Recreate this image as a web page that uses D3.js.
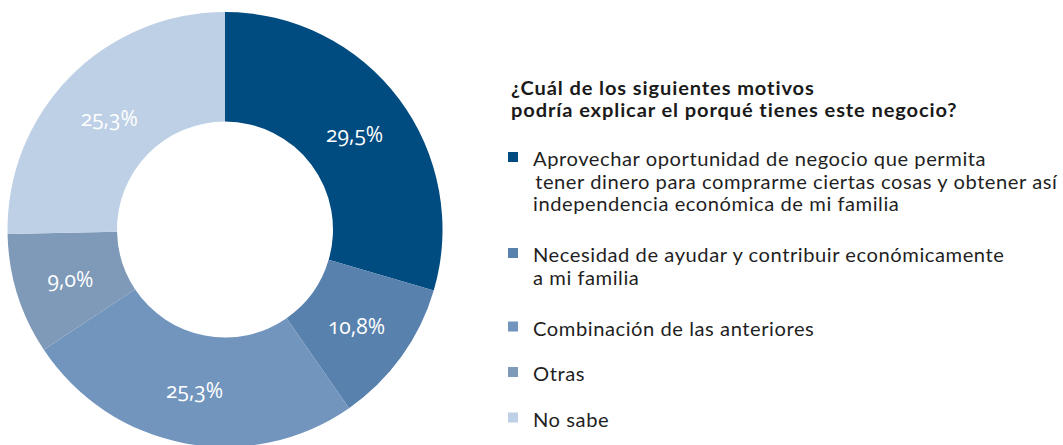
<!DOCTYPE html>
<html>
<head>
<meta charset="utf-8">
<script src="https://cdn.jsdelivr.net/npm/d3@7"></script>
<style>
  html, body { margin: 0; padding: 0; background: #fff; }
  svg { display: block; }
  text { font-family: Lato, "Open Sans", sans-serif; }
</style>
</head>
<body>
<svg id="chart" width="1063" height="445"></svg>
<script>
// ---- data ----
const categories = [
  ["Aprovechar oportunidad de negocio que permita", "tener dinero para comprarme ciertas cosas y obtener así", "independencia económica de mi familia"],
  ["Necesidad de ayudar y contribuir económicamente", "a mi familia"],
  ["Combinación de las anteriores"],
  ["Otras"],
  ["No sabe"]
];
const values = [29.5, 10.8, 25.3, 9.0, 25.3];
const valueLabels = ["29,5%", "10,8%", "25,3%", "9,0%", "25,3%"];
const colors = ["#004b7f", "#5881ad", "#7295be", "#7e9ab8", "#bed0e5"];
const titleLines = ["¿Cuál de los siguientes motivos", "podría explicar el porqué tienes este negocio?"];

// ---- layout ----
const svg = d3.select("#chart");
const cx = 225, cy = 229.5, outerR = 217.5, innerR = 108;

const pie = d3.pie().sort(null).value(d => d);
const arcs = pie(values);
const arc = d3.arc().innerRadius(innerR).outerRadius(outerR);
const labelArc = d3.arc().innerRadius(innerR + 54).outerRadius(innerR + 54);

const g = svg.append("g").attr("transform", `translate(${cx},${cy})`);
g.selectAll("path.slice")
  .data(arcs)
  .join("path")
  .attr("class", "slice")
  .attr("d", arc)
  .attr("fill", (d, i) => colors[i]);

g.selectAll("text.lbl")
  .data(arcs)
  .join("text")
  .attr("class", "lbl")
  .attr("transform", d => `translate(${labelArc.centroid(d)})`)
  .attr("text-anchor", "middle")
  .attr("dy", "0.45em")
  .attr("fill", "#ffffff")
  .style("font-family", "'Open Sans', sans-serif")
  .style("font-size", "21px")
  .style("font-variant-numeric", "oldstyle-nums")
  .style("font-feature-settings", "'onum' 1")
  .text((d, i) => valueLabels[i]);

// ---- title ----
const titleX = 511, titleSx = 1.115;
svg.append("g")
  .attr("transform", `translate(${titleX},0) scale(${titleSx},1)`)
  .selectAll("text.title")
  .data(titleLines)
  .join("text")
  .attr("class", "title")
  .attr("x", 0)
  .attr("y", (d, i) => 95 + i * 21.8)
  .attr("fill", "#1a1a1a")
  .style("font-size", "18px")
  .style("font-weight", "bold")
  .style("letter-spacing", "0.8px")
  .text(d => d);

// ---- legend ----
const lineH = 22.5;
const textX = 533, textSx = 1.09;
let sqY = 157;
const legend = svg.append("g");
categories.forEach((lines, i) => {
  legend.append("rect")
    .attr("x", 508).attr("y", sqY - 5)
    .attr("width", 10).attr("height", 10)
    .attr("fill", colors[i]);
  const y0 = sqY + 9.5;
  legend.append("g")
    .attr("transform", `translate(${textX},0) scale(${textSx},1)`)
    .selectAll("text")
    .data(lines)
    .join("text")
    .attr("x", (d, j) => (i === 0 && j === 1) ? 2 : 0)
    .attr("y", (d, j) => y0 + j * lineH)
    .attr("fill", "#1f1f1f")
    .style("font-size", "18.5px")
    .style("letter-spacing", "0.5px")
    .text(d => d);
  sqY += (lines.length - 1) * lineH + (lines.length > 1 ? 51 : 45.5);
});
</script>
</body>
</html>
